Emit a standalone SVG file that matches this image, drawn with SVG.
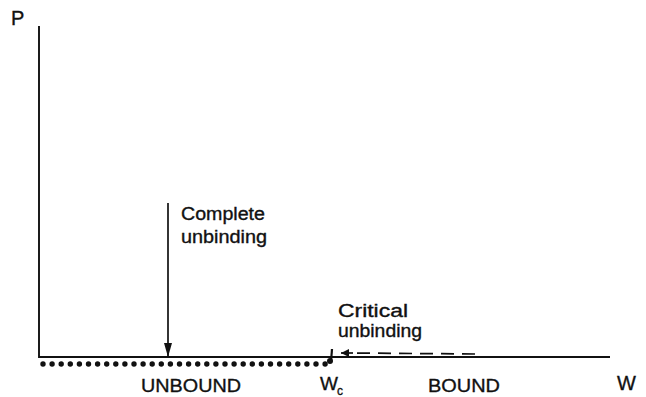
<svg xmlns="http://www.w3.org/2000/svg" width="646" height="397" viewBox="0 0 646 397">
  <style>
    .lbl { font-family: "Liberation Sans", "DejaVu Sans", Arial, sans-serif; fill: #111; stroke: #111; stroke-width: 0.35; }
    .axis { stroke: #111; stroke-width: 1.9; fill: none; }
    .conn { stroke: #111; stroke-width: 1.7; fill: none; }
  </style>
  <defs>
    <marker id="head" viewBox="0 0 10 10" refX="10" refY="5" markerWidth="10" markerHeight="8" markerUnits="userSpaceOnUse" orient="auto">
      <path d="M0,0 L10,5 L0,10 Z" fill="#111"/>
    </marker>
    <marker id="headLong" viewBox="0 0 14 8" refX="14" refY="4" markerWidth="15" markerHeight="8" markerUnits="userSpaceOnUse" orient="auto">
      <path d="M0,0 L14,4 L0,8 Z" fill="#111"/>
    </marker>
  </defs>

  <!-- axes -->
  <g id="axes">
    <path class="axis" d="M39,26 V357 H610"/>
    <text class="lbl" x="11" y="25" font-size="20">P</text>
    <text class="lbl" x="617" y="390" font-size="20">W</text>
  </g>

  <!-- unbound state marked by a dotted row under the axis -->
  <g id="unbound">
    <line x1="43" y1="364" x2="325.5" y2="364" stroke="#111" stroke-width="5.4" stroke-linecap="round" stroke-dasharray="0 9.1"/>
    <text class="lbl" x="141" y="392" font-size="19" textLength="100" lengthAdjust="spacingAndGlyphs">UNBOUND</text>
  </g>

  <!-- critical point W_c -->
  <g id="wc">
    <line x1="332" y1="349" x2="331" y2="362" stroke="#111" stroke-width="2.2"/>
    <circle cx="330" cy="361" r="3" fill="#111"/>
    <text class="lbl" x="320" y="390" font-size="19">W</text>
    <text class="lbl" x="337" y="395" font-size="12">c</text>
  </g>

  <g id="bound">
    <text class="lbl" x="428" y="392" font-size="19" textLength="72" lengthAdjust="spacingAndGlyphs">BOUND</text>
  </g>

  <g id="complete">
    <text class="lbl" x="181" y="220" font-size="18" textLength="84" lengthAdjust="spacingAndGlyphs">Complete</text>
    <text class="lbl" x="181" y="243" font-size="18" textLength="86" lengthAdjust="spacingAndGlyphs">unbinding</text>
  </g>

  <g id="critical">
    <text class="lbl" x="338" y="317" font-size="18" textLength="70" lengthAdjust="spacingAndGlyphs">Critical</text>
    <text class="lbl" x="338" y="337" font-size="18" textLength="84" lengthAdjust="spacingAndGlyphs">unbinding</text>
  </g>

  <!-- connectors -->
  <g id="connectors">
    <line class="conn" x1="168" y1="203" x2="168" y2="357" marker-end="url(#headLong)"/>
    <line class="conn" x1="353" y1="353" x2="341" y2="353" marker-end="url(#head)"/>
    <line class="conn" x1="475" y1="354" x2="353" y2="353" stroke-dasharray="13 8"/>
  </g>
</svg>
